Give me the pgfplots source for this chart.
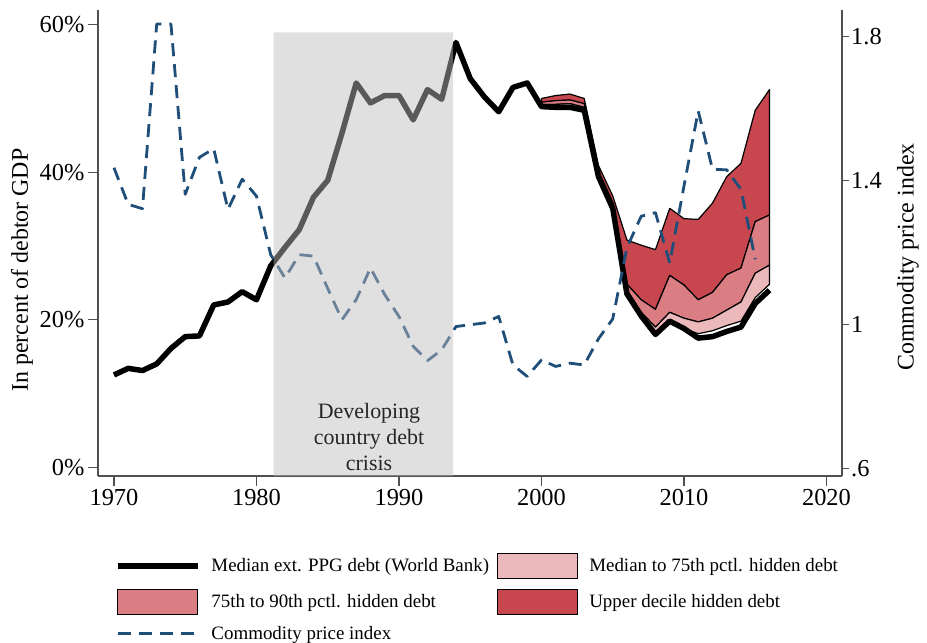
\documentclass[border=0pt]{standalone}
\usepackage{fontspec}
\setmainfont{Liberation Serif}
\usepackage{pgfplots}
\pgfplotsset{compat=1.18}
\usepackage{pgfplotstable}
\usepgfplotslibrary{fillbetween}

\definecolor{dred}{HTML}{C8474F}
\definecolor{mred}{HTML}{DB7E84}
\definecolor{lred}{HTML}{EBB8BB}
\definecolor{cblue}{HTML}{1F4E79}
\definecolor{axcol}{HTML}{505050}

\pgfplotsset{
  boxleg/.style={legend image code/.code={\draw[##1,draw=black,line width=1.2bp] (0bp,-12.5bp) rectangle (80bp,12.5bp);}},
  lineleg/.style={legend image code/.code={\draw[##1] (0bp,0bp) -- (80bp,0bp);}},
}

\pgfplotstableread{
year debt
1970 12.5
1971 13.4
1972 13.1
1973 14.0
1974 16.1
1975 17.7
1976 17.8
1977 22.0
1978 22.4
1979 23.8
1980 22.7
1981 27.3
1982 29.8
1983 32.2
1984 36.6
1985 38.9
1986 45.3
1987 52.1
1988 49.4
1989 50.4
1990 50.4
1991 47.1
1992 51.2
1993 49.9
1994 57.6
1995 52.7
1996 50.2
1997 48.2
1998 51.5
1999 52.1
2000 48.9
2001 48.8
2002 48.8
2003 48.4
2004 39.4
2005 35.1
2006 23.5
2007 20.5
2008 18.0
2009 19.8
2010 18.8
2011 17.5
2012 17.7
2013 18.4
2014 19.0
2015 22.2
2016 24.0
}\debttab

\pgfplotstableread{
year p50 p75 p90 top
2000 48.9 49.2 49.5 50.0
2001 48.8 49.2 49.7 50.4
2002 48.8 49.3 49.8 50.6
2003 48.4 48.8 49.3 50.0
2004 39.4 39.7 40.1 40.9
2005 35.1 35.4 35.9 36.8
2006 23.5 24.0 24.8 30.8
2007 20.5 21.0 22.7 30.1
2008 18.0 19.0 21.4 29.5
2009 19.8 21.0 26.0 35.1
2010 18.8 20.2 24.7 33.7
2011 18.1 19.7 22.7 33.6
2012 18.5 20.2 23.7 35.8
2013 19.2 21.3 26.1 39.4
2014 19.8 22.4 27.0 41.2
2015 23.0 26.3 33.3 48.4
2016 24.8 27.4 34.2 51.2
}\bandtab

\pgfplotstableread{
year cpi
1970 1.436
1971 1.334
1972 1.322
1973 1.836
1974 1.836
1975 1.362
1976 1.465
1977 1.489
1978 1.320
1979 1.404
1980 1.357
1981 1.194
1982 1.129
1983 1.194
1984 1.190
1985 1.100
1986 1.013
1987 1.069
1988 1.157
1989 1.083
1990 1.022
1991 0.939
1992 0.899
1993 0.929
1994 0.994
1995 0.999
1996 1.004
1997 1.022
1998 0.887
1999 0.855
2000 0.901
2001 0.883
2002 0.892
2003 0.887
2004 0.960
2005 1.015
2006 1.214
2007 1.301
2008 1.311
2009 1.171
2010 1.385
2011 1.594
2012 1.432
2013 1.430
2014 1.376
2015 1.181
}\cpitab

\begin{document}
\begin{tikzpicture}
\begin{axis}[
  scale only axis, width=744bp, height=466bp,
  xmin=1968.88, xmax=2021.09, ymin=-1.2, ymax=62.0,
  axis x line*=bottom, axis y line*=left,
  axis line style={axcol, line width=1.1bp},
  every tick/.style={axcol, line width=1.1bp},
  tick align=outside, major tick length=10bp,
  xtick={1970,1980,...,2020}, ytick={0,20,40,60},
  minor tick num=0,
  /pgf/number format/assume math mode=true,
  xticklabel style={/pgf/number format/1000 sep=, font=\fontsize{24.5}{28}\selectfont},
  yticklabel={\pgfmathprintnumber{\tick}\%},
  yticklabel style={font=\fontsize{24.5}{28}\selectfont},
  ylabel={In percent of debtor GDP},
  ylabel style={at={(axis description cs:-0.1022,0.442)}, anchor=center, font=\fontsize{24}{28}\selectfont},
]
\addplot[draw=none, name path=p50, forget plot] table[x=year, y=p50] {\bandtab};
\addplot[draw=none, name path=p75, forget plot] table[x=year, y=p75] {\bandtab};
\addplot[draw=none, name path=p90, forget plot] table[x=year, y=p90] {\bandtab};
\addplot[draw=none, name path=top, forget plot] table[x=year, y=top] {\bandtab};
\addplot[fill=dred, draw=black, line width=1.2bp, line join=round, forget plot] fill between[of=p90 and top];
\addplot[fill=mred, draw=black, line width=1.2bp, line join=round, forget plot] fill between[of=p75 and p90];
\addplot[fill=lred, draw=black, line width=1.2bp, line join=round, forget plot] fill between[of=p50 and p75];
\addplot[black, line width=5.5bp, line join=round, forget plot] table[x=year, y=debt] {\debttab};
\end{axis}

\begin{axis}[
  scale only axis, width=744bp, height=466bp,
  xmin=1968.88, xmax=2021.09, ymin=0.578, ymax=1.875,
  axis x line=none, axis y line*=right,
  axis line style={axcol, line width=1.1bp},
  every tick/.style={axcol, line width=1.1bp},
  tick align=outside, major tick length=7bp,
  ytick={0.6,1,1.4,1.8}, yticklabels={.6,1,1.4,1.8},
  minor tick num=0,
  /pgf/number format/assume math mode=true,
  yticklabel style={font=\fontsize{24.5}{28}\selectfont, inner sep=2bp},
  ylabel={Commodity price index},
  ylabel style={at={(axis description cs:1.0887,0.47)}, anchor=center, font=\fontsize{24}{28}\selectfont},
  legend columns=2,
  legend cell align=left,
  legend style={
    at={(axis description cs:0.0228,-0.165)}, anchor=north west,
    draw=none, fill=none, inner sep=0pt, outer sep=0pt,
    font=\fontsize{19}{22}\selectfont,
    /tikz/every odd column/.append style={column sep=9bp},
    /tikz/every even column/.append style={column sep=6bp},
    row sep=9.5bp,
    nodes={inner sep=2bp},
  },
]
\addlegendimage{lineleg, black, line width=5.5bp}
\addlegendentry{Median ext. PPG debt (World Bank)}
\addlegendimage{boxleg, fill=lred}
\addlegendentry{Median to 75th pctl. hidden debt}
\addlegendimage{boxleg, fill=mred}
\addlegendentry{75th to 90th pctl. hidden debt}
\addlegendimage{boxleg, fill=dred}
\addlegendentry{Upper decile hidden debt}
\addplot[lineleg, cblue, line width=2.8bp, dash pattern=on 13bp off 8bp, line join=round] table[x=year, y=cpi] {\cpitab};
\addlegendentry{Commodity price index}
\addplot[fill=black!26, fill opacity=0.475, draw=none, forget plot] coordinates {(1981.2,0.578) (1981.2,1.8127) (1993.8,1.8127) (1993.8,0.578)} \closedcycle;
\node[align=center, font=\fontsize{22}{26}\selectfont, text=black!85] at (axis cs:1987.9,0.686) {Developing\\country debt\\crisis};
\end{axis}
\path (-98bp,-167bp) rectangle (829bp,476bp);
\end{tikzpicture}
\end{document}
